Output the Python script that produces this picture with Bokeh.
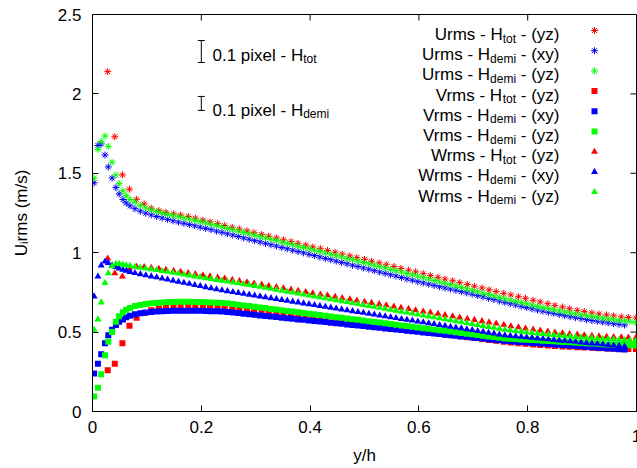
import math
from bokeh.plotting import figure
from bokeh.models import (Range1d, FixedTicker, PrintfTickFormatter,
                          Label, Whisker, ColumnDataSource, TeeHead)
from bokeh.embed import file_html
from bokeh.resources import INLINE

# ---------------- data ----------------
x_htot = [0.028, 0.041, 0.055, 0.068, 0.081, 0.095, 0.108, 0.122, 0.135, 0.149, 0.162, 0.176, 0.189, 0.203,
          0.216, 0.230, 0.243, 0.257, 0.270, 0.284, 0.297, 0.311, 0.324, 0.338,
          0.351, 0.365, 0.378, 0.392, 0.405, 0.419, 0.432, 0.446, 0.459, 0.473,
          0.486, 0.500, 0.513, 0.527, 0.540, 0.554, 0.567, 0.581, 0.594, 0.608,
          0.621, 0.635, 0.648, 0.662, 0.675, 0.689, 0.702, 0.716, 0.729, 0.742,
          0.756, 0.769, 0.783, 0.796, 0.810, 0.823, 0.837, 0.850, 0.864, 0.877,
          0.891, 0.904, 0.918, 0.931, 0.945, 0.958, 0.972, 0.985, 0.999]

x_demi = [0.003, 0.010, 0.016, 0.023, 0.029, 0.036, 0.043, 0.049, 0.056, 0.062, 0.069,
          0.078, 0.088, 0.098, 0.108, 0.118, 0.128, 0.138, 0.148, 0.158, 0.168, 0.178, 0.188, 0.198,
          0.208, 0.218, 0.228, 0.238, 0.248, 0.258, 0.268, 0.278, 0.288, 0.298,
          0.308, 0.318, 0.328, 0.338, 0.348, 0.358, 0.368, 0.378, 0.388, 0.398,
          0.408, 0.418, 0.428, 0.438, 0.448, 0.458, 0.468, 0.478, 0.488, 0.498,
          0.508, 0.518, 0.528, 0.538, 0.548, 0.558, 0.568, 0.578, 0.588, 0.598,
          0.608, 0.618, 0.628, 0.638, 0.648, 0.658, 0.668, 0.678, 0.688, 0.698,
          0.708, 0.718, 0.728, 0.738, 0.748, 0.758, 0.768, 0.778, 0.788, 0.798,
          0.808, 0.818, 0.828, 0.838, 0.848, 0.858, 0.868, 0.878, 0.888, 0.898,
          0.908, 0.918, 0.928, 0.938, 0.948, 0.958, 0.968, 0.978, 0.988, 0.998]

u_tot_yz = [2.14, 1.73, 1.49, 1.40, 1.336, 1.307, 1.28, 1.265, 1.254, 1.245, 1.237, 1.228, 1.218, 1.205,
            1.194, 1.183, 1.171, 1.160, 1.149, 1.138, 1.126, 1.115, 1.104, 1.093,
            1.081, 1.070, 1.059, 1.048, 1.036, 1.025, 1.014, 1.003, 0.991, 0.980,
            0.969, 0.958, 0.946, 0.935, 0.924, 0.913, 0.901, 0.890, 0.879, 0.868,
            0.856, 0.845, 0.834, 0.823, 0.811, 0.800, 0.789, 0.778, 0.766, 0.755,
            0.744, 0.734, 0.723, 0.713, 0.700, 0.690, 0.679, 0.668, 0.658, 0.647,
            0.637, 0.629, 0.621, 0.614, 0.608, 0.602, 0.596, 0.592, 0.589]

u_demi_xy = [1.44, 1.675, 1.685, 1.615, 1.54, 1.47, 1.41, 1.37, 1.335, 1.313, 1.295,
             1.277, 1.262, 1.249, 1.238, 1.228, 1.219, 1.210, 1.201, 1.193, 1.185, 1.177, 1.169, 1.161,
             1.153, 1.145, 1.136, 1.128, 1.119, 1.111, 1.102, 1.093, 1.085, 1.076,
             1.068, 1.059, 1.050, 1.042, 1.033, 1.025, 1.016, 1.007, 0.999, 0.990,
             0.982, 0.973, 0.964, 0.956, 0.947, 0.939, 0.930, 0.921, 0.913, 0.904,
             0.896, 0.887, 0.878, 0.870, 0.861, 0.853, 0.844, 0.835, 0.827, 0.818,
             0.810, 0.802, 0.794, 0.786, 0.778, 0.771, 0.763, 0.755, 0.747, 0.739,
             0.730, 0.722, 0.713, 0.705, 0.696, 0.687, 0.679, 0.671, 0.663, 0.655,
             0.647, 0.639, 0.632, 0.625, 0.618, 0.611, 0.604, 0.597, 0.591, 0.585,
             0.579, 0.573, 0.568, 0.563, 0.558, 0.553, 0.549, 0.545]

u_demi_yz = [1.47, 1.65, 1.70, 1.735, 1.67, 1.57, 1.49, 1.435, 1.39, 1.36, 1.335,
             1.318, 1.298, 1.282, 1.270, 1.260, 1.250, 1.241, 1.233, 1.226, 1.219, 1.212, 1.204, 1.196,
             1.187, 1.179, 1.170, 1.162, 1.153, 1.145, 1.136, 1.127, 1.119, 1.110,
             1.102, 1.093, 1.084, 1.076, 1.067, 1.059, 1.050, 1.041, 1.033, 1.024,
             1.016, 1.007, 0.998, 0.990, 0.981, 0.973, 0.964, 0.955, 0.947, 0.938,
             0.930, 0.921, 0.912, 0.904, 0.895, 0.887, 0.878, 0.869, 0.861, 0.852,
             0.843, 0.834, 0.825, 0.816, 0.807, 0.799, 0.790, 0.781, 0.772, 0.763,
             0.754, 0.745, 0.736, 0.728, 0.719, 0.710, 0.702, 0.694, 0.686, 0.678,
             0.670, 0.662, 0.655, 0.648, 0.641, 0.634, 0.627, 0.621, 0.615, 0.609,
             0.603, 0.598, 0.593, 0.588, 0.583, 0.578, 0.574, 0.570, 0.566, 0.562]

v_tot_yz = [0.26, 0.30, 0.43, 0.54, 0.59, 0.62, 0.638, 0.648, 0.655, 0.659, 0.661, 0.662, 0.662, 0.661,
            0.659, 0.657, 0.654, 0.648, 0.643, 0.637, 0.632, 0.626, 0.620, 0.615,
            0.609, 0.603, 0.598, 0.592, 0.586, 0.581, 0.575, 0.570, 0.564, 0.558,
            0.553, 0.547, 0.541, 0.536, 0.530, 0.525, 0.519, 0.513, 0.508, 0.502,
            0.496, 0.491, 0.485, 0.480, 0.474, 0.468, 0.463, 0.457, 0.451, 0.446,
            0.440, 0.435, 0.430, 0.426, 0.422, 0.419, 0.416, 0.413, 0.410, 0.407,
            0.405, 0.403, 0.401, 0.399, 0.397, 0.396, 0.395, 0.394, 0.393]

v_demi_xy = [0.24, 0.30, 0.36, 0.43, 0.48, 0.515, 0.545, 0.565, 0.58, 0.593, 0.603,
             0.612, 0.618, 0.623, 0.627, 0.630, 0.632, 0.633, 0.634, 0.635, 0.635, 0.635, 0.635, 0.634,
             0.633, 0.632, 0.631, 0.629, 0.627, 0.623, 0.620, 0.616, 0.613, 0.609,
             0.605, 0.602, 0.598, 0.595, 0.591, 0.588, 0.584, 0.580, 0.577, 0.573,
             0.570, 0.566, 0.563, 0.559, 0.555, 0.552, 0.548, 0.545, 0.541, 0.538,
             0.534, 0.530, 0.527, 0.523, 0.520, 0.516, 0.513, 0.509, 0.505, 0.502,
             0.498, 0.495, 0.491, 0.488, 0.484, 0.480, 0.477, 0.473, 0.470, 0.466,
             0.463, 0.459, 0.455, 0.452, 0.448, 0.445, 0.442, 0.440, 0.437, 0.435,
             0.432, 0.430, 0.427, 0.425, 0.422, 0.420, 0.417, 0.415, 0.412, 0.410,
             0.407, 0.405, 0.402, 0.400, 0.397, 0.395, 0.392, 0.390]

v_demi_yz = [0.095, 0.15, 0.235, 0.355, 0.44, 0.50, 0.565, 0.60, 0.625, 0.64, 0.652,
             0.664, 0.671, 0.677, 0.681, 0.684, 0.687, 0.689, 0.690, 0.691, 0.691, 0.691, 0.690, 0.689,
             0.688, 0.687, 0.685, 0.683, 0.681, 0.677, 0.672, 0.668, 0.664, 0.659,
             0.655, 0.651, 0.646, 0.642, 0.638, 0.633, 0.629, 0.625, 0.620, 0.616,
             0.612, 0.607, 0.603, 0.599, 0.594, 0.590, 0.586, 0.581, 0.577, 0.573,
             0.568, 0.564, 0.560, 0.555, 0.551, 0.547, 0.542, 0.538, 0.534, 0.529,
             0.525, 0.521, 0.516, 0.512, 0.508, 0.503, 0.499, 0.495, 0.490, 0.486,
             0.482, 0.477, 0.473, 0.469, 0.464, 0.460, 0.458, 0.456, 0.454, 0.452,
             0.450, 0.448, 0.446, 0.444, 0.442, 0.440, 0.438, 0.436, 0.434, 0.432,
             0.430, 0.428, 0.426, 0.424, 0.422, 0.420, 0.419, 0.418, 0.417, 0.416]

w_tot_yz = [0.964, 0.87, 0.85, 0.90, 0.912, 0.910, 0.905, 0.899, 0.893, 0.886, 0.879, 0.872, 0.865, 0.858,
            0.851, 0.844, 0.837, 0.829, 0.822, 0.814, 0.806, 0.799, 0.791, 0.783,
            0.776, 0.768, 0.760, 0.753, 0.745, 0.737, 0.730, 0.722, 0.714, 0.707,
            0.699, 0.691, 0.684, 0.676, 0.669, 0.661, 0.653, 0.646, 0.638, 0.630,
            0.623, 0.615, 0.607, 0.600, 0.592, 0.584, 0.577, 0.569, 0.561, 0.554,
            0.546, 0.537, 0.530, 0.523, 0.516, 0.510, 0.504, 0.498, 0.493, 0.488,
            0.484, 0.480, 0.477, 0.474, 0.471, 0.469, 0.467, 0.466, 0.466]

w_demi_xy = [0.725, 0.85, 0.92, 0.945, 0.935, 0.92, 0.91, 0.90, 0.893, 0.886, 0.879,
             0.872, 0.865, 0.858, 0.851, 0.845, 0.838, 0.831, 0.824, 0.817, 0.811, 0.804, 0.797, 0.790,
             0.783, 0.777, 0.770, 0.763, 0.758, 0.752, 0.747, 0.741, 0.736, 0.730,
             0.725, 0.719, 0.714, 0.709, 0.703, 0.698, 0.692, 0.687, 0.681, 0.676,
             0.670, 0.665, 0.660, 0.654, 0.649, 0.643, 0.638, 0.632, 0.627, 0.622,
             0.616, 0.611, 0.605, 0.600, 0.594, 0.589, 0.583, 0.578, 0.573, 0.567,
             0.562, 0.556, 0.551, 0.545, 0.540, 0.534, 0.529, 0.524, 0.518, 0.513,
             0.507, 0.502, 0.496, 0.491, 0.485, 0.480, 0.477, 0.474, 0.471, 0.467,
             0.464, 0.461, 0.458, 0.455, 0.451, 0.448, 0.445, 0.442, 0.439, 0.435,
             0.432, 0.429, 0.426, 0.423, 0.419, 0.416, 0.413, 0.410]

w_demi_yz = [0.515, 0.58, 0.687, 0.81, 0.87, 0.915, 0.93, 0.93, 0.925, 0.921, 0.917,
             0.912, 0.906, 0.901, 0.896, 0.891, 0.885, 0.880, 0.874, 0.869, 0.863, 0.857, 0.851, 0.846,
             0.840, 0.835, 0.829, 0.824, 0.818, 0.813, 0.807, 0.802, 0.796, 0.791,
             0.785, 0.779, 0.773, 0.767, 0.761, 0.755, 0.749, 0.743, 0.737, 0.731,
             0.725, 0.719, 0.713, 0.707, 0.701, 0.695, 0.689, 0.683, 0.677, 0.671,
             0.665, 0.659, 0.653, 0.647, 0.641, 0.635, 0.629, 0.623, 0.617, 0.611,
             0.605, 0.599, 0.593, 0.587, 0.581, 0.575, 0.569, 0.563, 0.557, 0.551,
             0.545, 0.539, 0.533, 0.527, 0.521, 0.515, 0.511, 0.507, 0.503, 0.499,
             0.495, 0.491, 0.488, 0.485, 0.482, 0.479, 0.476, 0.473, 0.470, 0.467,
             0.464, 0.462, 0.460, 0.458, 0.456, 0.454, 0.452, 0.450, 0.448, 0.446]

# error-bar annotations (0.1 pixel for each grid)
err_x = [0.2, 0.2]
err_y = [2.267, 1.940]
err_half = [0.069, 0.044]
err_names = ["tot", "demi"]

x_ticks = [0, 0.2, 0.4, 0.6, 0.8, 1]
x_tick_labels = ["0", "0.2", "0.4", "0.6", "0.8", "1"]
y_ticks = [0, 0.5, 1, 1.5, 2, 2.5]
y_tick_labels = ["0", "0.5", "1", "1.5", "2", "2.5"]

# series: (component, grid, plane, x, y, colour, marker)
series = [
    ("Urms", "tot", "yz", x_htot, u_tot_yz, "#ff0000", "asterisk"),
    ("Urms", "demi", "xy", x_demi, u_demi_xy, "#0000ff", "asterisk"),
    ("Urms", "demi", "yz", x_demi, u_demi_yz, "#00ff00", "asterisk"),
    ("Vrms", "tot", "yz", x_htot, v_tot_yz, "#ff0000", "square"),
    ("Vrms", "demi", "xy", x_demi, v_demi_xy, "#0000ff", "square"),
    ("Vrms", "demi", "yz", x_demi, v_demi_yz, "#00ff00", "square"),
    ("Wrms", "tot", "yz", x_htot, w_tot_yz, "#ff0000", "triangle"),
    ("Wrms", "demi", "xy", x_demi, w_demi_xy, "#0000ff", "triangle"),
    ("Wrms", "demi", "yz", x_demi, w_demi_yz, "#00ff00", "triangle"),
]

# ---------------- layout ----------------
W, H = 637, 468
ML, MR, MT, MB = 92, 1, 14, 57
FX0, FX1 = ML, W - MR          # frame in picture pixels
FY0, FY1 = MT, H - MB
XMIN, XMAX, YMIN, YMAX = 0.0, 1.0, 0.0, 2.5
TICK_PX = 6
XLAB_BASE = 435.5               # baseline of x tick labels (pixels)

def dx(px):
    return XMIN + (px - FX0) / (FX1 - FX0) * (XMAX - XMIN)

def dy(py):
    return YMIN + (FY1 - py) / (FY1 - FY0) * (YMAX - YMIN)

FONT = "Liberation Sans"
FS, SFS = 17, 12
AW = {' ': 278, '(': 333, ')': 333, '-': 333, '.': 278, '/': 278, 'U': 722, 'V': 667,
      'W': 944, 'H': 722, 'r': 333, 'm': 833, 's': 500, 't': 278, 'o': 556, 'd': 556,
      'e': 556, 'i': 222, 'x': 500, 'y': 500, 'z': 500, 'p': 556, 'l': 222}
for c in "0123456789":
    AW[c] = 556

def tw(s, size):
    return sum(AW.get(c, 556) for c in s) * size / 1000.0

p = figure(width=W, height=H, output_backend="svg", toolbar_location=None,
           x_range=Range1d(XMIN, XMAX), y_range=Range1d(YMIN, YMAX),
           min_border_left=ML, min_border_right=MR, min_border_top=MT, min_border_bottom=MB)
p.background_fill_color = "white"
p.border_fill_color = "white"
p.outline_line_color = "black"
p.outline_line_width = 1
p.xgrid.visible = False
p.ygrid.visible = False

def style_axis(ax, ticks, labels):
    ax.ticker = FixedTicker(ticks=ticks)
    ax.formatter = PrintfTickFormatter(format="%g")
    ax.major_label_overrides = {float(t): l for t, l in zip(ticks, labels)}
    ax.major_tick_in = TICK_PX
    ax.major_tick_out = 0
    ax.minor_tick_in = 0
    ax.minor_tick_out = 0
    ax.major_tick_line_color = "black"
    ax.axis_line_color = "black"
    ax.major_label_text_font = FONT
    ax.major_label_text_color = "black"
    ax.major_label_text_font_size = f"{FS}px"

style_axis(p.xaxis[0], x_ticks, x_tick_labels)
style_axis(p.yaxis[0], y_ticks, y_tick_labels)
# the label at the right end of the x axis is cut by the picture edge in the original;
# it is drawn as a free label held by the (otherwise empty) top panel, whose minimum
# border is larger than the label, so it changes neither the frame width nor height
p.xaxis[0].major_label_overrides = {float(t): (l if t != XMAX else "")
                                    for t, l in zip(x_ticks, x_tick_labels)}
p.add_layout(Label(x=XMAX, y=dy(XLAB_BASE), text=x_tick_labels[-1], text_font=FONT,
                   text_font_size=f"{FS}px", text_color="black", text_align="center",
                   text_baseline="alphabetic"), "above")
p.xaxis[0].major_label_standoff = 9
p.yaxis[0].major_label_standoff = 11
for ax, lab, st in [(p.xaxis[0], "y/h", 10), (p.yaxis[0], "U\u1d62rms (m/s)", 24)]:
    ax.axis_label = lab
    ax.axis_label_text_font = FONT
    ax.axis_label_text_font_size = f"{FS}px"
    ax.axis_label_text_font_style = "normal"
    ax.axis_label_text_color = "black"
    ax.axis_label_standoff = st

# mirrored inward ticks on the top and right borders (gnuplot style)
tx = TICK_PX / (FX1 - FX0) * (XMAX - XMIN)
ty = TICK_PX / (FY1 - FY0) * (YMAX - YMIN)
p.segment(x0=x_ticks, x1=x_ticks, y0=[YMAX] * len(x_ticks), y1=[YMAX - ty] * len(x_ticks),
          line_color="black", line_width=1)
p.segment(x0=[XMAX] * len(y_ticks), x1=[XMAX - tx] * len(y_ticks), y0=y_ticks, y1=y_ticks,
          line_color="black", line_width=1)

# ---------------- data points ----------------
def draw_marker(xs, ys, col, mk):
    if mk == "asterisk":
        p.scatter(xs, ys, marker="asterisk", size=7, line_color=col, line_width=1)
    elif mk == "square":
        p.scatter(xs, ys, marker="square", size=6, fill_color=col, line_color=None)
    else:
        p.scatter(xs, ys, marker="triangle", size=7, fill_color=col, line_color=None)

for comp, grid, plane, xs, ys, col, mk in series:
    draw_marker(xs[:len(ys)], ys, col, mk)

# ---------------- rich text helper ----------------
def add_text(text, x_px, base_px, size):
    p.add_layout(Label(x=dx(x_px), y=dy(base_px), text=text, text_font=FONT,
                       text_font_size=f"{size}px", text_color="black", text_align="left",
                       text_baseline="alphabetic"))

SUB_DROP = 4

# legend (right aligned text, marker to the right)
LEG_RIGHT, LEG_BASE0, LEG_STEP, LEG_MARK_X, LEG_MARK_Y0 = 559, 34, 20.2, 594, 30
for i, (comp, grid, plane, xs, ys, col, mk) in enumerate(series):
    head = comp + " - H"
    sub = grid
    tail = "- (" + plane + ")"
    total = tw(head, FS) + tw(sub, SFS) + tw(" " + tail, FS)
    x0 = LEG_RIGHT - total
    base = LEG_BASE0 + LEG_STEP * i
    add_text(head, x0, base, FS)
    add_text(sub, x0 + tw(head, FS), base + SUB_DROP, SFS)
    add_text(tail, x0 + tw(head, FS) + tw(sub, SFS) + tw(" ", FS), base, FS)
    draw_marker([dx(LEG_MARK_X)], [dy(LEG_MARK_Y0 + LEG_STEP * i)], col, mk)

# error bars + their labels
src = ColumnDataSource(dict(base=err_x,
                            lower=[y - h for y, h in zip(err_y, err_half)],
                            upper=[y + h for y, h in zip(err_y, err_half)]))
p.add_layout(Whisker(source=src, base="base", lower="lower", upper="upper", dimension="height",
                     line_color="black", line_width=1,
                     lower_head=TeeHead(size=7, line_color="black", line_width=1),
                     upper_head=TeeHead(size=7, line_color="black", line_width=1)))
ERR_TXT_X, ERR_BASES = 212, [54.5, 109.5]
for name, base in zip(err_names, ERR_BASES):
    head = "0.1 pixel - H"
    add_text(head, ERR_TXT_X, base, FS)
    add_text(name, ERR_TXT_X + tw(head, FS), base + SUB_DROP, SFS)

open("out.html", "w").write(file_html(p, INLINE))
